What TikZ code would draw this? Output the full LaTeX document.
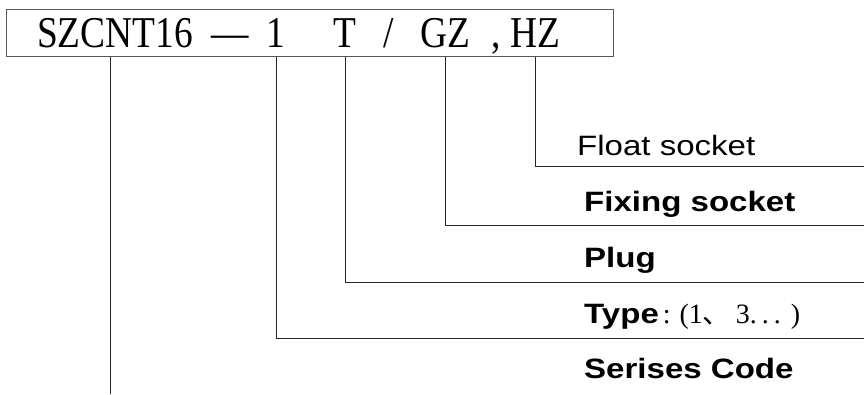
\documentclass[tikz,border=0pt]{standalone}
\usepackage{fontspec}
\usepackage{tikz}
\usetikzlibrary{positioning}

\setmainfont{Liberation Sans}
\newfontfamily\codefont[FakeStretch=0.85]{Liberation Serif}
\newfontfamily\notefont{Liberation Serif}
\newfontfamily\labelfont[FakeStretch=1.18]{Liberation Sans}
\newfontfamily\cjk{Noto Sans CJK SC}

\begin{document}
\begin{tikzpicture}[
  x=1pt, y=-1pt,
  codebox/.style={rectangle, draw=black!65, line width=1pt, minimum width=607pt, minimum height=47pt, inner sep=0pt},
  token/.style={anchor=base, inner sep=0pt, font=\codefont\fontsize{44}{46}\selectfont},
  label/.style={anchor=base west, inner sep=0pt, font=\labelfont\fontsize{28}{30}\selectfont},
  lead/.style={draw=black!85, line width=1pt},
]
  \useasboundingbox (0,0) rectangle (864,394);

  % code string in the box
  \node[codebox] (code) at (309.5,32.5) {};
  \node[token] (szcnt) at (115,47) {SZCNT16};
  \node[token] (dash)  at (230,47) {—};
  \node[token] (num)   at (276,47) {1};
  \node[token] (plugT) at (345,47) {T};
  \node[token] (slash) at (389,47) {/};
  \node[token] (gz)    at (445,47) {GZ};
  \node[token] (comma) at (496,47) {,};
  \node[token] (hz)    at (535,47) {HZ};

  % explanations
  \node[label] (float)  at (577,155) {Float socket};
  \node[label] (fixing) at (584,211) {\bfseries Fixing socket};
  \node[label] (plug)   at (584,267) {\bfseries Plug};
  \node[label] (type)   at (584,323) {\bfseries Type{\notefont\mdseries\fontsize{28}{30}\selectfont\hspace{4pt}:\hspace{9pt}(1{\cjk 、}\hspace{5pt}3.\hspace{5pt}.\hspace{5pt}.\hspace{10pt})}};
  \node[label] (series) at (584,378) {\bfseries Serises Code};

  \coordinate (edge) at (864,0);
  \coordinate (bottom) at (0,394);

  \draw[lead] (hz.south |- code.south) |- (edge |- 0,166);
  \draw[lead] (gz.south |- code.south) |- (edge |- 0,225);
  \draw[lead] (plugT.south |- code.south) |- (edge |- 0,282);
  \draw[lead] (num.south |- code.south) |- (edge |- 0,338);
  \draw[lead] ([xshift=-5pt]szcnt.south |- code.south) -- ([xshift=-5pt]szcnt.south |- bottom);
\end{tikzpicture}
\end{document}
